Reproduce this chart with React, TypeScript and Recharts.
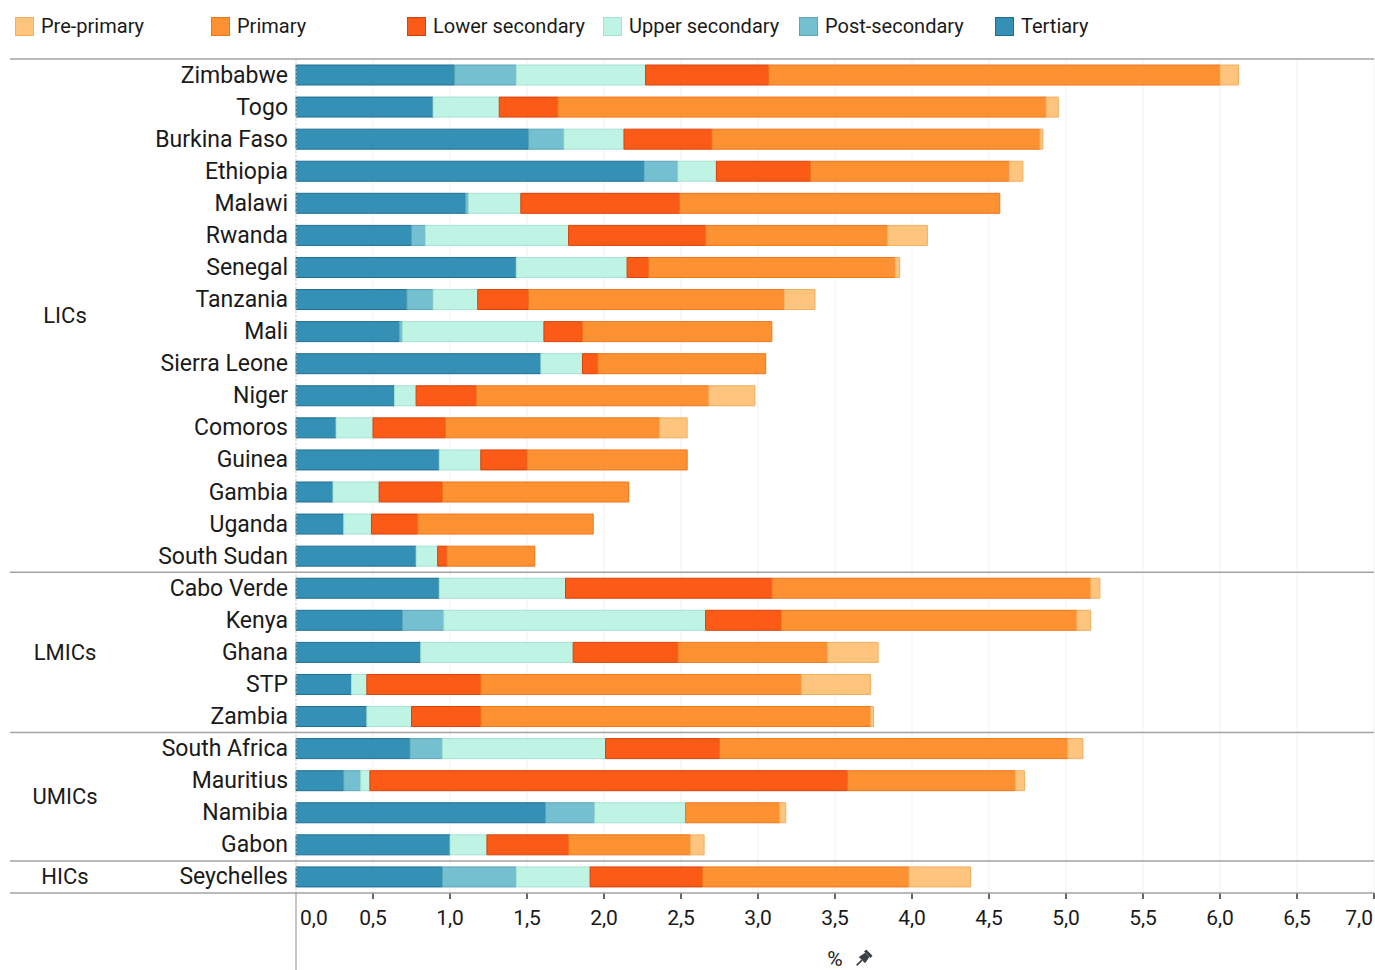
import React from "react";
import { BarChart, Bar, XAxis, YAxis, CartesianGrid } from "recharts";

// Public spending per education level, % of GDP
const countries = [
  "Zimbabwe", "Togo", "Burkina Faso", "Ethiopia", "Malawi", "Rwanda", "Senegal", "Tanzania",
  "Mali", "Sierra Leone", "Niger", "Comoros", "Guinea", "Gambia", "Uganda", "South Sudan",
  "Cabo Verde", "Kenya", "Ghana", "STP", "Zambia",
  "South Africa", "Mauritius", "Namibia", "Gabon",
  "Seychelles",
];

const groupNames = ["LICs", "LMICs", "UMICs", "HICs"];
const groupSizes = [16, 5, 4, 1];

const tertiary = [1.03, 0.89, 1.51, 2.26, 1.1, 0.75, 1.43, 0.72, 0.67, 1.59, 0.64, 0.26, 0.93, 0.24, 0.31, 0.78, 0.93, 0.69, 0.81, 0.36, 0.46, 0.74, 0.31, 1.62, 1.0, 0.95];
const postSecondary = [0.4, 0, 0.23, 0.22, 0.02, 0.09, 0, 0.17, 0.02, 0, 0, 0, 0, 0, 0, 0, 0, 0.27, 0, 0, 0, 0.21, 0.11, 0.32, 0, 0.48];
const upperSecondary = [0.84, 0.43, 0.39, 0.25, 0.34, 0.93, 0.72, 0.29, 0.92, 0.27, 0.14, 0.24, 0.27, 0.3, 0.18, 0.14, 0.82, 1.7, 0.99, 0.1, 0.29, 1.06, 0.06, 0.59, 0.24, 0.48];
const lowerSecondary = [0.8, 0.38, 0.57, 0.61, 1.03, 0.89, 0.14, 0.33, 0.25, 0.1, 0.39, 0.47, 0.3, 0.41, 0.3, 0.06, 1.34, 0.49, 0.68, 0.74, 0.45, 0.74, 3.1, 0, 0.53, 0.73];
const primary = [2.93, 3.17, 2.13, 1.29, 2.08, 1.18, 1.6, 1.66, 1.23, 1.09, 1.51, 1.39, 1.04, 1.21, 1.14, 0.57, 2.07, 1.92, 0.97, 2.08, 2.53, 2.26, 1.09, 0.61, 0.79, 1.34];
const prePrimary = [0.12, 0.08, 0.02, 0.09, 0, 0.26, 0.03, 0.2, 0, 0, 0.3, 0.18, 0, 0, 0, 0, 0.06, 0.09, 0.33, 0.45, 0.02, 0.1, 0.06, 0.04, 0.09, 0.4];

const xTicks = [0, 0.5, 1, 1.5, 2, 2.5, 3, 3.5, 4, 4.5, 5, 5.5, 6, 6.5, 7];

// stacking order, left to right
const series = [
  { key: "tertiary", name: "Tertiary", values: tertiary, fill: "#3590b6", stroke: "#1f6e92" },
  { key: "postSecondary", name: "Post-secondary", values: postSecondary, fill: "#74bfd0", stroke: "#5aa6b8" },
  { key: "upperSecondary", name: "Upper secondary", values: upperSecondary, fill: "#bff3e3", stroke: "#a6e2d2" },
  { key: "lowerSecondary", name: "Lower secondary", values: lowerSecondary, fill: "#fc5b17", stroke: "#d8420a" },
  { key: "primary", name: "Primary", values: primary, fill: "#fe9232", stroke: "#f0741a" },
  { key: "prePrimary", name: "Pre-primary", values: prePrimary, fill: "#ffc57e", stroke: "#f5ad5e" },
];

const data = countries.map((country, i) => {
  const row: Record<string, string | number> = { country };
  series.forEach((s) => {
    row[s.key] = s.values[i];
  });
  return row;
});

const WIDTH = 1375;
const HEIGHT = 970;
const PLOT_TOP = 59;
const PLOT_BOTTOM = 893;
const LEFT_AXIS = 296;
const RULE_LEFT = 10;
const RULE_RIGHT = 1374;
const BAND = (PLOT_BOTTOM - PLOT_TOP) / countries.length;
const FONT = "Roboto, 'Noto Sans', sans-serif";
const RULE = "#a3a3a3";

// first row index of each group
const groupStarts = groupSizes.map((_, g) => groupSizes.slice(0, g).reduce((a, b) => a + b, 0));

function CountryTick(props: any) {
  const { x, y, payload } = props;
  const i: number = payload.index ?? props.index;
  const g = groupStarts.indexOf(i);
  const isLast = i === countries.length - 1;
  return (
    <g>
      {g >= 0 && (
        <>
          <line x1={RULE_LEFT} x2={RULE_RIGHT} y1={y - BAND / 2} y2={y - BAND / 2} stroke={RULE} strokeWidth={1.5} />
          <text
            x={65}
            y={y - BAND / 2 + (groupSizes[g] * BAND) / 2}
            textAnchor="middle"
            dominantBaseline="central"
            fontSize={22}
            fill="#1a1a1a"
            fontFamily={FONT}
          >
            {groupNames[g]}
          </text>
        </>
      )}
      {isLast && (
        <line x1={RULE_LEFT} x2={RULE_RIGHT} y1={y + BAND / 2} y2={y + BAND / 2} stroke={RULE} strokeWidth={1.5} />
      )}
      <text x={x} y={y} textAnchor="end" dominantBaseline="central" fontSize={23} fill="#1a1a1a" fontFamily={FONT}>
        {payload.value}
      </text>
    </g>
  );
}

function PctTick(props: any) {
  const { x, payload } = props;
  const v: number = payload.value;
  const anchor = v === 0 ? "start" : v === 7 ? "end" : "middle";
  const dx = v === 0 ? 4 : v === 7 ? -1 : 0;
  return (
    <g>
      {v === 0 ? (
        <line x1={x} x2={x} y1={PLOT_BOTTOM} y2={HEIGHT} stroke="#b5b5b5" strokeWidth={1.5} />
      ) : (
        <line x1={x} x2={x} y1={PLOT_BOTTOM} y2={PLOT_BOTTOM + 6} stroke="#333" strokeWidth={1.5} />
      )}
      <text x={x + dx} y={PLOT_BOTTOM + 32} textAnchor={anchor} fontSize={21} fill="#1a1a1a" fontFamily={FONT}>
        {v.toFixed(1).replace(".", ",")}
      </text>
    </g>
  );
}

function AxisCaption(props: any) {
  const vb = props.viewBox ?? { x: LEFT_AXIS, y: PLOT_BOTTOM, width: RULE_RIGHT - LEFT_AXIS, height: 77 };
  const cx = vb.x + vb.width / 2;
  const cy = vb.y + 66;
  return (
    <g>
      <text x={cx} y={cy + 7} textAnchor="middle" fontSize={21} fill="#1a1a1a" fontFamily={FONT}>
        %
      </text>
      <g transform={`translate(${cx + 28},${cy}) rotate(45)`} fill="#3a4048">
        <rect x={-4.5} y={-9} width={9} height={3} />
        <path d="M-3 -6 L3 -6 L4.5 1.5 L-4.5 1.5 Z" />
        <line x1={0} y1={1.5} x2={0} y2={9} stroke="#3a4048" strokeWidth={1.6} />
      </g>
    </g>
  );
}

function LegendRow() {
  const items = [...series].reverse();
  return (
    <div style={{ position: "absolute", left: 0, top: 0, width: WIDTH, height: 52 }}>
      {items.map((s, i) => (
        <div
          key={s.key}
          style={{
            position: "absolute",
            left: 15 + i * 196,
            top: 14,
            height: 24,
            display: "flex",
            alignItems: "center",
            whiteSpace: "nowrap",
          }}
        >
          <span
            style={{
              display: "inline-block",
              width: 17,
              height: 17,
              background: s.fill,
              border: `1px solid ${s.stroke}`,
              marginRight: 7,
            }}
          />
          <span style={{ fontSize: 20, color: "#1a1a1a", fontFamily: FONT }}>{s.name}</span>
        </div>
      ))}
    </div>
  );
}

export default function App() {
  return (
    <div style={{ position: "absolute", left: 0, top: 0, width: WIDTH, height: HEIGHT, background: "#fff", fontFamily: FONT }}>
      <LegendRow />
      <BarChart
        width={WIDTH}
        height={HEIGHT}
        data={data}
        layout="vertical"
        margin={{ top: PLOT_TOP, right: WIDTH - RULE_RIGHT, bottom: 0, left: 0 }}
        barSize={20}
      >
        <CartesianGrid horizontal={false} vertical={true} stroke="#f1f1f1" />
        <XAxis
          type="number"
          domain={[0, 7]}
          ticks={xTicks}
          height={HEIGHT - PLOT_BOTTOM}
          axisLine={false}
          tickLine={false}
          tick={<PctTick />}
          interval={0}
          label={<AxisCaption />}
        />
        <YAxis
          type="category"
          dataKey="country"
          width={LEFT_AXIS}
          tickLine={false}
          tickSize={0}
          tickMargin={8}
          axisLine={{ stroke: "#cfcfcf", strokeDasharray: "2 2" }}
          tick={<CountryTick />}
          interval={0}
        />
        {series.map((s) => (
          <Bar
            key={s.key}
            dataKey={s.key}
            name={s.name}
            stackId="edu"
            fill={s.fill}
            stroke={s.stroke}
            strokeWidth={1}
            isAnimationActive={false}
          />
        ))}
      </BarChart>
    </div>
  );
}
